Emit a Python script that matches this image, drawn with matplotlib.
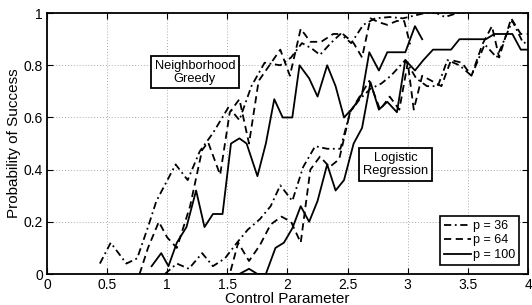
import matplotlib
matplotlib.use("Agg")
import matplotlib.pyplot as plt

plt.rcParams['font.family'] = ['Liberation Sans', 'DejaVu Sans']

# Neighborhood greedy curves
ng36_x = [0.44, 0.53, 0.66, 0.75, 0.84, 0.91, 0.99, 1.07, 1.17, 1.27, 1.38, 1.51, 1.60, 1.70,
          1.81, 1.94, 2.03, 2.12, 2.20, 2.27, 2.36, 2.44, 2.53, 2.63, 2.73, 2.85, 2.96, 3.05,
          3.14, 3.24, 3.31, 3.41, 3.47]
ng36_y = [0.04, 0.12, 0.04, 0.06, 0.18, 0.28, 0.35, 0.42, 0.36, 0.47, 0.54, 0.64, 0.59, 0.72,
          0.81, 0.80, 0.83, 0.885, 0.865, 0.84, 0.885, 0.92, 0.885, 0.955, 0.98, 0.985, 0.98, 0.99,
          1.0, 1.0, 0.985, 1.0, 1.0]

ng64_x = [0.77, 0.84, 0.93, 1.00, 1.08, 1.19, 1.29, 1.34, 1.44, 1.52, 1.60, 1.68, 1.76, 1.85,
          1.94, 2.02, 2.11, 2.19, 2.28, 2.38, 2.46, 2.55, 2.62, 2.69, 2.76, 2.83, 2.91, 2.97, 3.02]
ng64_y = [0.0, 0.10, 0.20, 0.14, 0.10, 0.26, 0.475, 0.505, 0.38, 0.62, 0.67, 0.50, 0.74, 0.80,
          0.86, 0.76, 0.94, 0.89, 0.89, 0.92, 0.92, 0.885, 0.83, 0.98, 0.965, 0.955, 0.97, 0.97, 0.88]

ng100_x = [0.87, 0.95, 1.01, 1.08, 1.16, 1.24, 1.31, 1.38, 1.46, 1.53, 1.60, 1.66, 1.75, 1.82,
           1.89, 1.96, 2.04, 2.10, 2.18, 2.25, 2.33, 2.40, 2.47, 2.55, 2.62, 2.68, 2.76, 2.83,
           2.91, 2.98, 3.06, 3.12]
ng100_y = [0.03, 0.08, 0.03, 0.12, 0.18, 0.32, 0.18, 0.23, 0.23, 0.50, 0.52, 0.50, 0.375, 0.50,
           0.67, 0.60, 0.60, 0.80, 0.75, 0.68, 0.80, 0.72, 0.60, 0.64, 0.69, 0.85, 0.78, 0.85,
           0.85, 0.85, 0.95, 0.90]

# Logistic regression curves
lr36_x = [0.98, 1.08, 1.18, 1.29, 1.38, 1.48, 1.58, 1.67, 1.77, 1.86, 1.94, 2.04, 2.13, 2.23,
          2.33, 2.44, 2.52, 2.60, 2.69, 2.78, 2.86, 2.98, 3.07, 3.16, 3.25, 3.33, 3.43, 3.53,
          3.64, 3.74, 3.87, 3.96, 4.0]
lr36_y = [0.0, 0.04, 0.02, 0.08, 0.03, 0.06, 0.12, 0.17, 0.21, 0.26, 0.34, 0.28, 0.41, 0.49,
          0.48, 0.48, 0.62, 0.67, 0.71, 0.73, 0.76, 0.82, 0.75, 0.72, 0.72, 0.82, 0.80, 0.76,
          0.88, 0.83, 0.97, 0.885, 0.89]

lr64_x = [1.45, 1.52, 1.59, 1.68, 1.77, 1.86, 1.95, 2.03, 2.11, 2.19, 2.27, 2.35, 2.43, 2.52,
          2.60, 2.68, 2.77, 2.85, 2.93, 3.00, 3.05, 3.12, 3.20, 3.28, 3.36, 3.45, 3.53, 3.62,
          3.70, 3.76, 3.86, 3.94, 4.0]
lr64_y = [0.0, 0.0, 0.12, 0.05, 0.11, 0.19, 0.22, 0.20, 0.12, 0.40, 0.45, 0.41, 0.44, 0.62,
          0.68, 0.74, 0.63, 0.68, 0.63, 0.81, 0.63, 0.76, 0.74, 0.72, 0.82, 0.81, 0.76, 0.88,
          0.95, 0.83, 0.98, 0.92, 0.92]

lr100_x = [1.53, 1.60, 1.68, 1.75, 1.82, 1.90, 1.97, 2.04, 2.11, 2.18, 2.25, 2.33, 2.40, 2.47,
           2.55, 2.62, 2.69, 2.76, 2.83, 2.91, 2.98, 3.06, 3.13, 3.21, 3.28, 3.36, 3.43, 3.51,
           3.58, 3.65, 3.72, 3.80, 3.87, 3.94, 4.0]
lr100_y = [0.0, 0.0, 0.02, 0.0, 0.0, 0.10, 0.12, 0.175, 0.26, 0.20, 0.28, 0.42, 0.32, 0.36,
           0.50, 0.56, 0.735, 0.63, 0.66, 0.62, 0.82, 0.78, 0.82, 0.86, 0.86, 0.86, 0.90, 0.90,
           0.90, 0.90, 0.92, 0.92, 0.92, 0.86, 0.86]

xticks = [0, 0.5, 1, 1.5, 2, 2.5, 3, 3.5, 4]
xtick_labels = ['0', '0.5', '1', '1.5', '2', '2.5', '3', '3.5', '4']
yticks = [0, 0.2, 0.4, 0.6, 0.8, 1]
ytick_labels = ['0', '0.2', '0.4', '0.6', '0.8', '1']

dashdot = (0, (4, 2, 1, 2))
dashed = (0, (4, 2.5))
lw = 1.3

fig = plt.figure(figsize=(5.32, 3.05), dpi=100)
ax = fig.add_axes([0.0883, 0.1016, 0.9042, 0.8554])

l36, = ax.plot(ng36_x, ng36_y, color='k', lw=lw, linestyle=dashdot, label='p = 36')
l64, = ax.plot(ng64_x, ng64_y, color='k', lw=lw, linestyle=dashed, label='p = 64')
l100, = ax.plot(ng100_x, ng100_y, color='k', lw=lw, linestyle='-', label='p = 100')
ax.plot(lr36_x, lr36_y, color='k', lw=lw, linestyle=dashdot)
ax.plot(lr64_x, lr64_y, color='k', lw=lw, linestyle=dashed)
ax.plot(lr100_x, lr100_y, color='k', lw=lw, linestyle='-')

ax.set_xlim(0, 4)
ax.set_ylim(0, 1)
ax.set_xticks(xticks)
ax.set_xticklabels(xtick_labels)
ax.set_yticks(yticks)
ax.set_yticklabels(ytick_labels)
ax.tick_params(direction='in', top=True, right=True, labelsize=10, length=4, pad=3)
ax.grid(True, color='#aaaaaa', linestyle=(0, (1, 2)), linewidth=0.7)
for s in ax.spines.values():
    s.set_linewidth(1.3)

ax.set_xlabel('Control Parameter', fontsize=11, labelpad=0)
ax.set_ylabel('Probability of Success', fontsize=11, labelpad=2)

box = dict(boxstyle='square,pad=0.3', facecolor='white', edgecolor='k', linewidth=1.3)
ax.text(1.23, 0.774, 'Neighborhood\nGreedy', ha='center', va='center', fontsize=9.3,
        bbox=box, linespacing=1.1)
ax.text(2.90, 0.42, 'Logistic\nRegression', ha='center', va='center', fontsize=9.3,
        bbox=box, linespacing=1.1)

leg = ax.legend(handles=[l36, l64, l100], loc='lower right', fontsize=9, handlelength=2.2,
                handletextpad=0.1, borderpad=0.3, labelspacing=0.2, fancybox=False,
                framealpha=1, borderaxespad=0.75)
leg.get_frame().set_edgecolor('k')
leg.get_frame().set_linewidth(1.2)

plt.savefig('out.png', dpi=100)
